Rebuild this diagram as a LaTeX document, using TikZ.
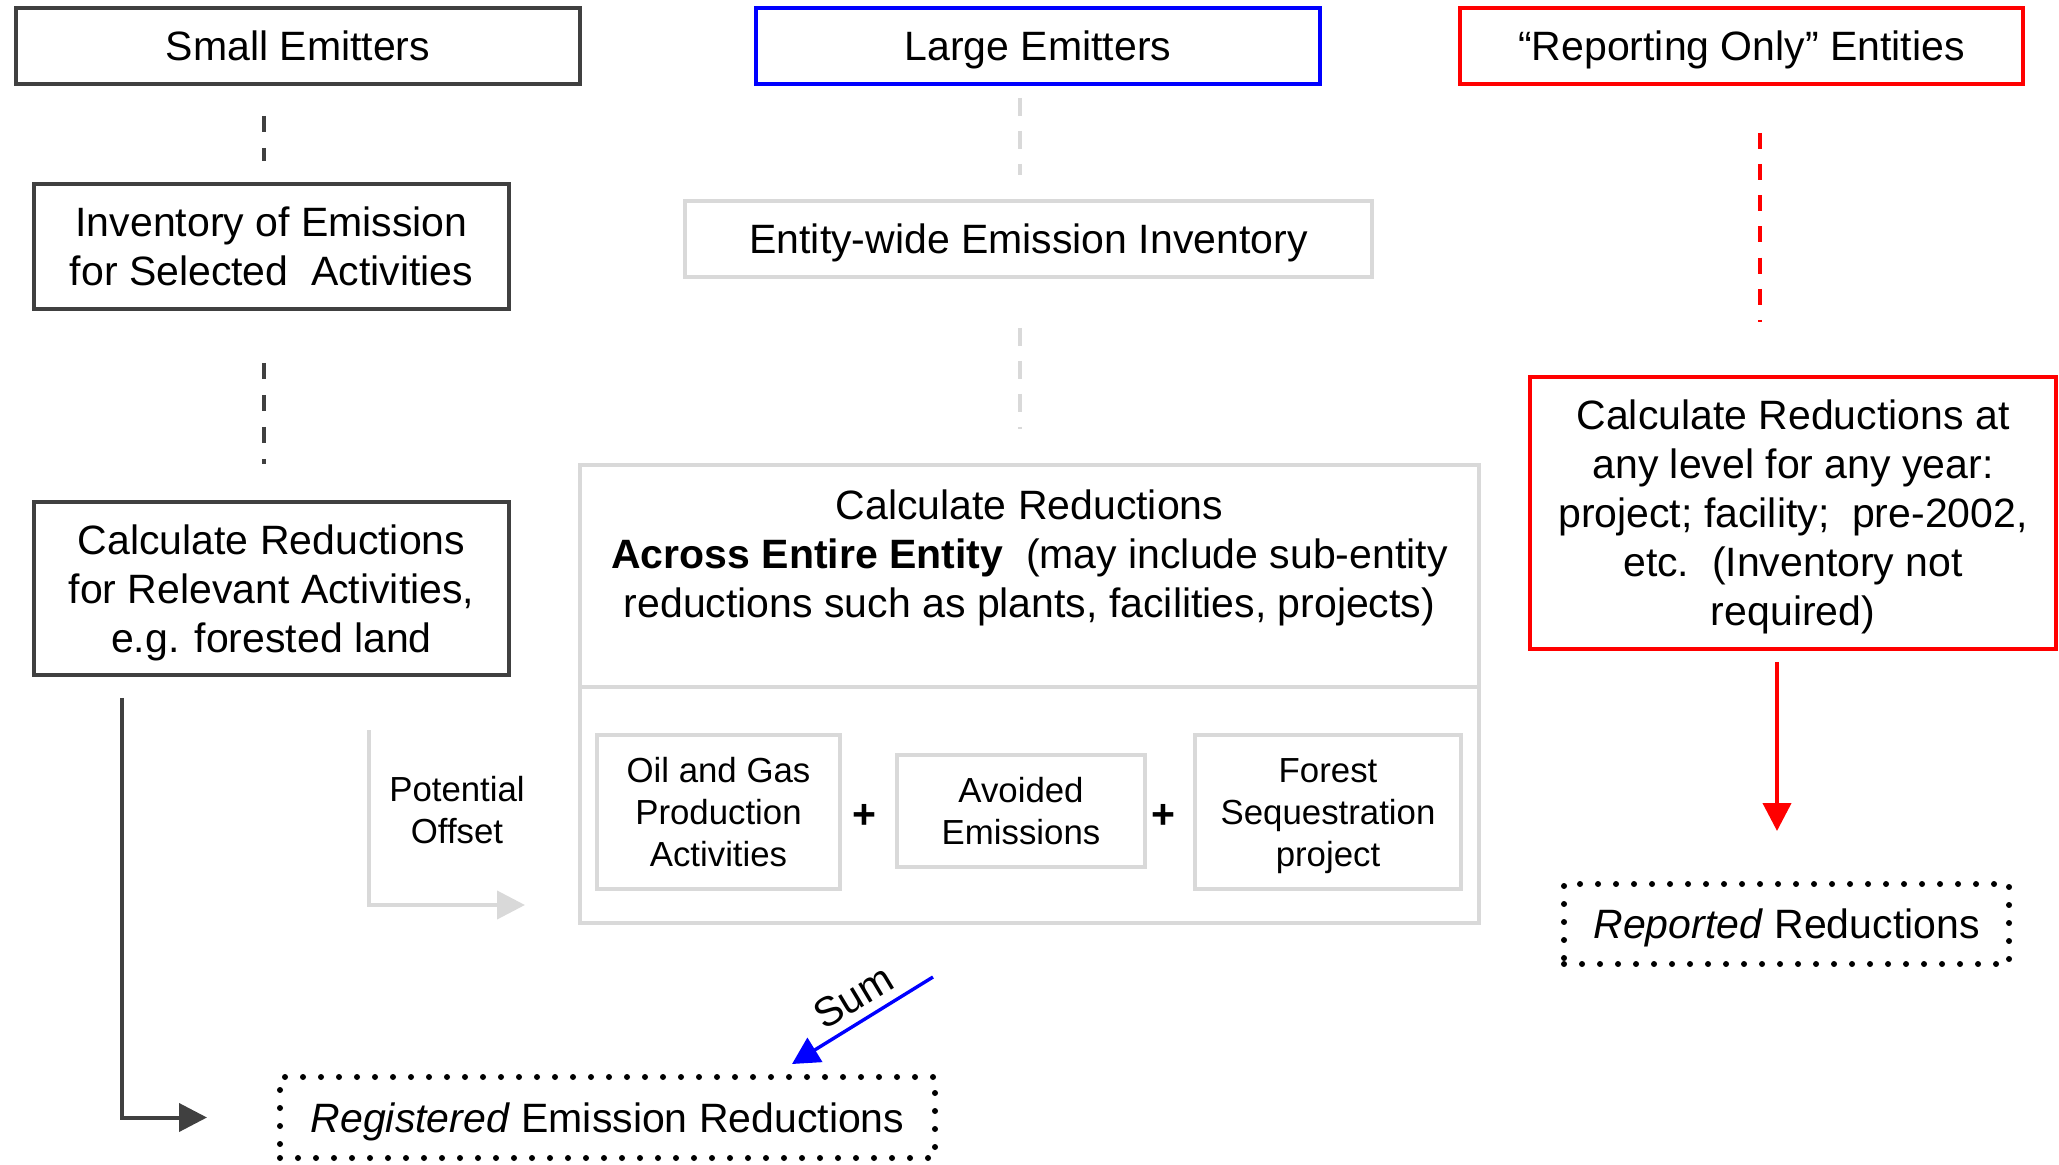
\documentclass[tikz,border=0pt]{standalone}
\usepackage{fontspec}
\setmainfont{Liberation Sans}
\usetikzlibrary{arrows.meta}
\definecolor{dk}{RGB}{64,64,64}
\definecolor{lg}{RGB}{217,217,217}
\definecolor{bl}{RGB}{0,0,255}
\definecolor{rd}{RGB}{255,0,0}
\newcommand\mainfs{\fontsize{20.5}{24.5}\selectfont}
\newcommand\subfs{\fontsize{17.4}{21}\selectfont}
\newcommand\ml[1]{\begin{tabular}[t]{@{}c@{}}#1\end{tabular}}
\begin{document}
\begin{tikzpicture}[x=0.5pt,y=-0.5pt,
  box/.style={draw, line width=1.8pt, inner sep=0pt, align=center, font=\mainfs},
  lbox/.style={box, draw=lg, line width=2pt},
  sbox/.style={lbox, font=\subfs},
  dotbox/.style={draw, line width=3pt, dash pattern=on 0pt off 9pt, line cap=round, inner sep=0pt, font=\mainfs},
  mn/.style={text height=14.7pt, text depth=#1},
  sn/.style={text height=12.5pt, text depth=#1},
  dkdash/.style={draw=dk, line width=2pt, dash pattern=on 8pt off 8pt},
  lgdash/.style={draw=lg, line width=2pt, dash pattern=on 9pt off 7.5pt},
  rddash/.style={draw=rd, line width=2pt, dash pattern=on 8pt off 7.6pt},
  dkarrow/.style={draw=dk, line width=2pt, -{Triangle[length=14pt,width=14pt]}},
  lgarrow/.style={draw=lg, line width=2pt, -{Triangle[length=14pt,width=14pt]}},
  rdarrow/.style={draw=rd, line width=2.1pt, -{Triangle[length=14pt,width=14pt]}},
  blarrow/.style={draw=bl, line width=1.7pt, -{Triangle[length=13.5pt,width=14pt]}}
]
\useasboundingbox (0,0) rectangle (2059,1165);

% top headers
\node[box, mn=0pt, draw=dk, minimum width=282pt, minimum height=38pt] (small) at (298,46) {Small Emitters};
\node[box, mn=0pt, draw=bl, minimum width=282pt, minimum height=38pt] (large) at (1038,46) {Large Emitters};
\node[box, mn=0pt, draw=rd, minimum width=281.5pt, minimum height=38pt] (rep) at (1741.5,46) {“Reporting Only” Entities};

% left column
\node[box, mn=24.5pt, draw=dk, minimum width=237.5pt, minimum height=62.5pt] (inv) at (271.5,246.5) {\ml{Inventory of Emission\\for Selected~~Activities}};
\node[box, mn=49pt, draw=dk, minimum width=237.5pt, minimum height=86.5pt] (calcl) at (271.5,588.5) {\ml{Calculate Reductions\\for Relevant Activities,\\e.g. forested land}};

% middle column
\node[lbox, mn=0pt, minimum width=343.5pt, minimum height=38pt] (ewi) at (1028.5,239) {Entity-wide Emission Inventory};
\node[lbox, minimum width=449.5pt, minimum height=229pt] (big) at (1029.5,694) {};
\draw[lg, line width=2pt] (big.west |- 0,687) -- (big.east |- 0,687);
\node[font=\mainfs, mn=49pt, inner sep=0pt] (bigtxt) at (1029.5,554) {\ml{Calculate Reductions\\\textbf{Across Entire Entity}~~(may include sub-entity\\reductions such as plants, facilities, projects)}};
\node[sbox, sn=42pt, minimum width=121.5pt, minimum height=77pt] (oil) at (718.5,812) {\ml{Oil and Gas\\Production\\Activities}};
\node[sbox, sn=21pt, minimum width=124pt, minimum height=56pt] (avoid) at (1021,811) {\ml{Avoided\\Emissions}};
\node[sbox, sn=42pt, minimum width=133pt, minimum height=77pt] (forest) at (1328,812) {\ml{Forest\\Sequestration\\project}};
\node[font=\mainfs\bfseries, inner sep=0pt] (plus1) at (864,816) {+};
\node[font=\mainfs\bfseries, inner sep=0pt] (plus2) at (1163,816) {+};

% right column
\node[box, mn=98pt, draw=rd, minimum width=263pt, minimum height=136pt] (redc) at (1793,513) {\ml{Calculate Reductions at\\any level for any year:\\project; facility;~~pre-2002,\\etc.~~(Inventory not\\required)}};
\node[dotbox, mn=0pt, minimum width=222.5pt, minimum height=40pt] (repd) at (1786.5,924) {\textit{Reported} Reductions};

% bottom
\node[dotbox, mn=0pt, minimum width=327.5pt, minimum height=40.5pt] (regd) at (607.5,1117.5) {\textit{Registered} Emission Reductions};
\node[font=\subfs, sn=21pt, inner sep=0pt] (po) at (457,810) {\ml{Potential\\Offset}};
\node[font=\mainfs, rotate=31, inner sep=0pt] (sum) at (853,997) {Sum};

% connectors
\draw[dkdash, shorten <=15pt, shorten >=10.5pt] (small.south -| 264,0) -- (inv.north -| 264,0);
\draw[dkdash, shorten <=26pt, shorten >=18pt] (inv.south -| 264,0) -- (calcl.north -| 264,0);
\draw[lgdash, shorten <=6pt, shorten >=12pt] (large.south -| 1020,0) -- (ewi.north -| 1020,0);
\draw[lgdash, shorten <=24.5pt, shorten >=17pt] (ewi.south -| 1020,0) -- (big.north -| 1020,0);
\draw[rddash, shorten <=23.5pt, shorten >=26.5pt] (rep.south -| 1760,0) -- (redc.north -| 1760,0);

\draw[dkarrow, shorten <=10.5pt, shorten >=35pt] (calcl.south -| 122,0) |- (regd.west);
\coordinate (offA) at (369,730);
\draw[lgarrow, shorten >=26.5pt] (offA) |- (big.west |- 0,905);
\draw[rdarrow, shorten <=5.5pt, shorten >=25pt] (redc.south -| 1777,0) -- (repd.north -| 1777,0);
\coordinate (sumA) at (933,977);
\coordinate (sumB) at (792,1064);
\draw[blarrow] (sumA) -- (sumB);
\end{tikzpicture}
\end{document}
